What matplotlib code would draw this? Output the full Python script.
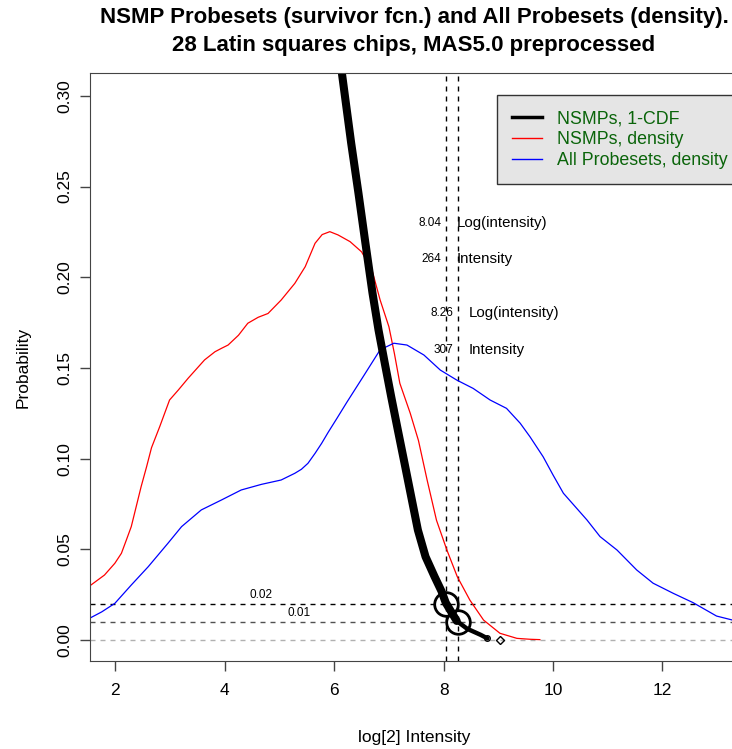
import matplotlib
matplotlib.use("Agg")
import matplotlib.pyplot as plt

plt.rcParams['font.family'] = ['Liberation Sans', 'DejaVu Sans']

# NSMPs survivor function (1-CDF)
cdf_x = [6.02, 6.145, 6.31, 6.443, 6.57, 6.70, 6.81, 6.925, 7.042, 7.163,
         7.286, 7.408, 7.53, 7.67, 7.835, 7.96, 8.04, 8.24]
cdf_y = [0.345, 0.3115, 0.2740, 0.2464, 0.2189, 0.1913, 0.1709, 0.1525, 0.1341, 0.1158,
         0.0974, 0.0790, 0.0606, 0.0459, 0.0349, 0.027, 0.0205, 0.0105]
tail_x = [8.24, 8.43, 8.68, 8.80]
tail_y = [0.0105, 0.0062, 0.0028, 0.0009]

# NSMPs density
red_x = [1.30, 1.53, 1.80, 1.99, 2.11, 2.20, 2.29, 2.38, 2.47, 2.57, 2.66, 2.81, 2.99,
         3.15, 3.33, 3.63, 3.82, 3.94, 4.06, 4.25, 4.42, 4.61, 4.79, 5.03, 5.28, 5.47,
         5.65, 5.78, 5.92, 6.07, 6.29, 6.50, 6.69, 6.84, 7.00, 7.10, 7.20, 7.39, 7.54,
         7.70, 7.87, 8.06, 8.25, 8.48, 8.73, 9.03, 9.34, 9.58, 9.76]
red_y = [0.025, 0.0298, 0.0358, 0.0423, 0.0478, 0.0551, 0.0625, 0.0735, 0.0845, 0.0955,
         0.106, 0.1176, 0.1323, 0.1378, 0.1443, 0.1544, 0.1589, 0.1608, 0.1626, 0.168,
         0.1746, 0.1779, 0.1800, 0.1874, 0.1966, 0.2058, 0.2187, 0.2235, 0.2251, 0.2233,
         0.2196, 0.214, 0.204, 0.1874, 0.1727, 0.158, 0.1415, 0.125, 0.110, 0.088, 0.066,
         0.0496, 0.0349, 0.022, 0.011, 0.0037, 0.0009, 0.0004, 0.0002]

# All probesets density
blue_x = [1.30, 1.53, 1.75, 1.99, 2.29, 2.60, 2.96, 3.21, 3.57, 3.94, 4.30, 4.67, 5.03,
          5.28, 5.40, 5.52, 5.65, 5.77, 5.89, 6.05, 6.23, 6.53, 6.84, 7.09, 7.33, 7.64,
          7.94, 8.24, 8.54, 8.85, 9.15, 9.40, 9.58, 9.82, 10.00, 10.19, 10.62, 10.86,
          11.17, 11.53, 11.83, 12.20, 12.56, 12.99, 13.28, 13.60]
blue_y = [0.008, 0.012, 0.0155, 0.0202, 0.0303, 0.0404, 0.0533, 0.0625, 0.0717, 0.0772,
          0.0827, 0.0858, 0.0882, 0.0919, 0.0941, 0.0974, 0.1029, 0.1084, 0.1145, 0.1222,
          0.1310, 0.1452, 0.160, 0.1636, 0.1626, 0.1571, 0.1488, 0.1433, 0.1387, 0.1323,
          0.1277, 0.1195, 0.1120, 0.101, 0.091, 0.0809, 0.0662, 0.057, 0.0496, 0.0386,
          0.0313, 0.0257, 0.0206, 0.0132, 0.011, 0.008]

# cutoffs: probability -> log intensity, intensity
cut_p = [0.02, 0.01]
cut_log = [8.04, 8.26]
cut_int = [264, 307]
cut_label_x = [4.67, 5.36]
row_y = [(0.23, 0.21), (0.18, 0.16)]

fig = plt.figure(figsize=(7.32, 7.49), dpi=100)
ax = fig.add_axes([90 / 732, 1 - 661 / 749, (738 - 90) / 732, (661 - 73) / 749])

dash = (0, (3.6, 3.6))
ax.axhline(0.0, color='#b0b0b0', lw=1, ls=dash)
ax.axhline(cut_p[0], color='black', lw=1, ls=dash)
ax.axhline(cut_p[1], color='#505050', lw=1, ls=dash)
for v in cut_log:
    ax.axvline(v, color='black', lw=1, ls=dash)

ax.plot(red_x, red_y, color='red', lw=0.9)
ax.plot(blue_x, blue_y, color='blue', lw=0.9)
ax.plot(cdf_x, cdf_y, color='black', lw=5.8, solid_capstyle='round', solid_joinstyle='round')
ax.plot(tail_x, tail_y, color='black', lw=3.2, solid_capstyle='round', solid_joinstyle='round')
ax.plot(tail_x[-1], tail_y[-1], 'o', color='black', ms=4, mfc='none', mew=1)
ax.plot(9.03, 0.0, 'D', color='black', ms=4, mfc='none', mew=1)
ax.plot(cut_log, cut_p, 'o', ms=17, mfc='none', mec='black', mew=2)

for lx, p in zip(cut_label_x, cut_p):
    ax.text(lx, p + 0.0015, f"{p:.2f}", fontsize=8.5, ha='center', va='bottom')

for v, n, (y1, y2) in zip(cut_log, cut_int, row_y):
    ax.annotate(f"{v:.2f}", (v, y1), xytext=(-3, 0), textcoords='offset points',
                ha='right', va='center', fontsize=8.5)
    ax.annotate("Log(intensity)", (v, y1), xytext=(8, 0), textcoords='offset points',
                ha='left', va='center', fontsize=10.8)
    ax.annotate(f"{n}", (v, y2), xytext=(-3, 0), textcoords='offset points',
                ha='right', va='center', fontsize=8.5)
    ax.annotate("Intensity", (v, y2), xytext=(8, 0), textcoords='offset points',
                ha='left', va='center', fontsize=10.8)

ax.set_xlim(1.5356, 13.382)
ax.set_ylim(-0.01158, 0.31257)
ax.set_xticks([2, 4, 6, 8, 10, 12])
ax.set_yticks([0.0, 0.05, 0.10, 0.15, 0.20, 0.25, 0.30])
ax.set_yticklabels(["0.00", "0.05", "0.10", "0.15", "0.20", "0.25", "0.30"],
                   rotation=90, va='center')
ax.tick_params(axis='both', labelsize=12.5, length=7, width=1, color='#444444')
ax.tick_params(axis='x', pad=9)
ax.tick_params(axis='y', pad=6)
for s in ['top', 'left', 'right', 'bottom']:
    ax.spines[s].set_color('#444444')

ax.set_xlabel("log[2] Intensity", fontsize=12.5)
ax.xaxis.set_label_coords(0.5, -(737 - 661) / 588 + 0.012)
ax.set_ylabel("Probability", fontsize=12.5)
ax.yaxis.set_label_coords(-(90 - 31) / 648, 0.5)

leg_lines = [plt.Line2D([], [], color='black', lw=2.5),
             plt.Line2D([], [], color='red', lw=1),
             plt.Line2D([], [], color='blue', lw=1)]
leg = fig.legend(leg_lines, ["NSMPs, 1-CDF", "NSMPs, density", "All Probesets, density"],
                 loc='upper left', bbox_to_anchor=(497 / 732, 1 - 95 / 749),
                 fontsize=12.8, frameon=True, fancybox=False, borderpad=0.85,
                 labelspacing=0.22, handlelength=1.7, handletextpad=0.85,
                 borderaxespad=0)
leg.get_frame().set_facecolor('#e5e5e5')
leg.get_frame().set_edgecolor('#333333')
leg.get_frame().set_alpha(1)
for t in leg.get_texts():
    t.set_color('#0a640a')

fig.text(414 / 732, 1 - 17 / 749, "NSMP Probesets (survivor fcn.) and All Probesets (density).",
         ha='center', va='center', fontsize=16, fontweight='bold')
fig.text(414 / 732, 1 - 45 / 749, "28 Latin squares chips, MAS5.0 preprocessed",
         ha='center', va='center', fontsize=16, fontweight='bold')

fig.savefig("out.png", dpi=100)
